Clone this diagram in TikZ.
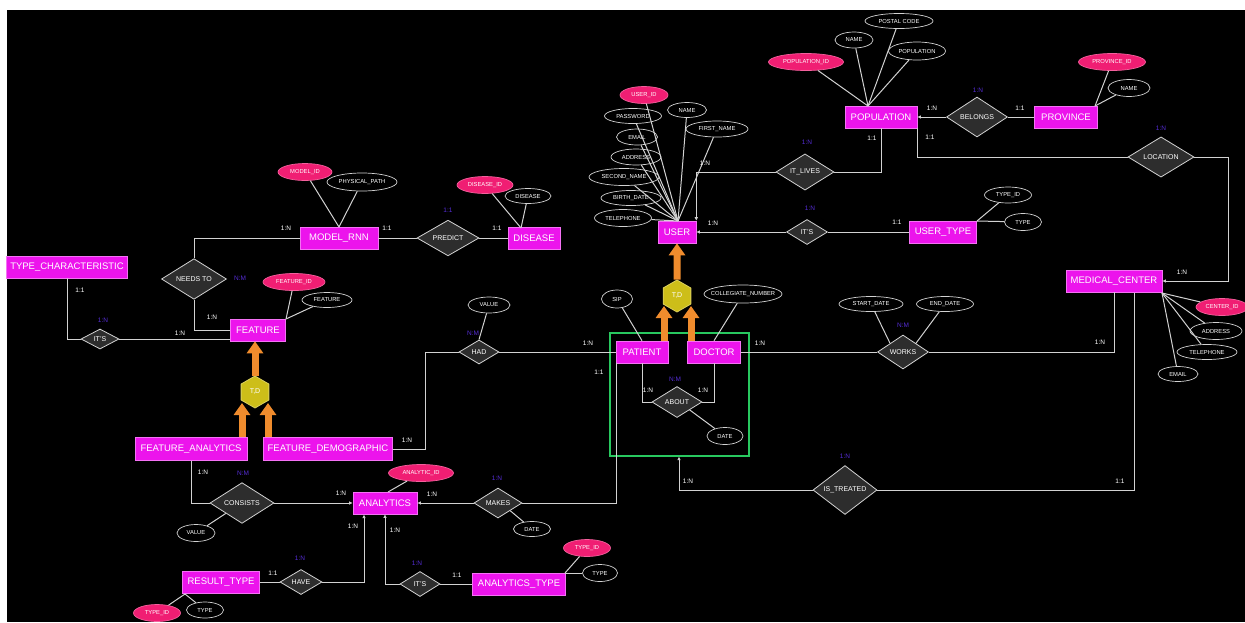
\documentclass[tikz,border=0pt]{standalone}
\usepackage{fontspec}
\setmainfont{Liberation Sans}
\usetikzlibrary{shapes.geometric,arrows.meta}
\definecolor{entfill}{RGB}{236,20,236}
\definecolor{keyfill}{RGB}{240,30,115}
\definecolor{relfill}{RGB}{45,45,45}
\definecolor{linecol}{RGB}{210,210,210}
\definecolor{ratiocol}{RGB}{85,45,215}
\definecolor{grpcol}{RGB}{40,200,95}
\definecolor{isacol}{RGB}{240,140,45}
\definecolor{hexfill}{RGB}{205,190,25}
\newcommand\entfont{\fontsize{9.5}{10}\selectfont}
\newcommand\relfont{\fontsize{7}{8}\selectfont}
\newcommand\attfont{\fontsize{5.8}{6}\selectfont}
\newcommand\cardfont{\fontsize{6.5}{7}\selectfont}
\newcommand\ctext[1]{\makebox[0pt]{#1}}
\begin{document}
\begin{tikzpicture}[x=1pt,y=-1pt,
 ent/.style={rectangle,fill=entfill,draw=entfill!60!white,line width=0.6pt,text=white,font=\entfont,inner sep=1pt,minimum height=22pt},
 rel/.style={diamond,fill=relfill,draw=linecol,line width=0.8pt,text=white,font=\relfont,inner sep=0pt},
 attr/.style={ellipse,fill=black,draw=linecol,line width=0.7pt,text=white,font=\attfont,inner sep=0pt,minimum height=15pt},
 keyattr/.style={attr,fill=keyfill,draw=keyfill!70!white},
 ln/.style={draw=linecol,line width=1pt},
 tipsm/.style={-{Latex[length=3.5pt,width=3.5pt]}},
 card/.style={text=white,font=\cardfont,inner sep=0pt},
 ratio/.style={text=ratiocol,font=\cardfont,inner sep=0pt},
 isa/.style={regular polygon,regular polygon sides=6,shape border rotate=90,fill=hexfill,draw=hexfill!70!white,line width=0.8pt,minimum size=32pt,inner sep=0pt,text=white,font=\relfont},
 isaarr/.style={draw=isacol,line width=7pt,-{Triangle[length=12pt,width=16pt]}},
 grp/.style={draw=grpcol,line width=2pt,fill=none}
]
\useasboundingbox (0,0) rectangle (1245,622);
\fill[white] (0,0) rectangle (1245,622);
\fill[black] (7,10) rectangle (1245,622);

% ---------- group frame around the specialisations of USER
\node[grp,minimum width=139pt,minimum height=123pt,inner sep=0pt] (grpbox) at (679,394) {};

% ---------- entities
\node[ent,minimum width=121pt] (typechar) at (67,267) {TYPE\_CHARACTERISTIC};
\node[ent,minimum width=78pt] (modelrnn) at (339,238) {MODEL\_RNN};
\node[ent,minimum width=52pt] (disease) at (534,238) {DISEASE};
\node[ent,minimum width=55pt] (feature) at (258,330) {FEATURE};
\node[ent,minimum width=112pt,minimum height=23pt] (fanal) at (191,449) {FEATURE\_ANALYTICS};
\node[ent,minimum width=129pt,minimum height=23pt] (fdemo) at (328,449) {FEATURE\_DEMOGRAPHIC};
\node[ent,minimum width=64pt] (analytics) at (385,503) {ANALYTICS};
\node[ent,minimum width=77pt] (resulttype) at (221,582) {RESULT\_TYPE};
\node[ent,minimum width=93pt] (antype) at (519,584) {ANALYTICS\_TYPE};
\node[ent,minimum width=52pt] (patient) at (642,352) {PATIENT};
\node[ent,minimum width=53pt] (doctor) at (714,352) {DOCTOR};
\node[ent,minimum width=38pt] (user) at (677,232) {USER};
\node[ent,minimum width=67pt] (usertype) at (943,232) {USER\_TYPE};
\node[ent,minimum width=72pt] (population) at (881,117) {POPULATION};
\node[ent,minimum width=63pt] (province) at (1066,117) {PROVINCE};
\node[ent,minimum width=96pt] (medcenter) at (1114,281) {MEDICAL\_CENTER};

% ---------- relationships
\node[rel,minimum width=62pt,minimum height=32pt] (predict) at (448,238) {PREDICT};
\node[rel,minimum width=65pt,minimum height=38pt] (needsto) at (194,279) {NEEDS TO};
\node[rel,minimum width=38pt,minimum height=20pt] (its1) at (100,339) {IT'S};
\node[rel,minimum width=40pt,minimum height=24pt] (had) at (479,352) {HAD};
\node[rel,minimum width=50pt,minimum height=31pt] (about) at (677,402) {ABOUT};
\node[rel,minimum width=64pt,minimum height=40pt] (consists) at (242,503) {CONSISTS};
\node[rel,minimum width=48pt,minimum height=30pt] (makes) at (498,503) {MAKES};
\node[rel,minimum width=42pt,minimum height=25pt] (have) at (301,582) {HAVE};
\node[rel,minimum width=40pt,minimum height=25pt] (its3) at (420,584) {IT'S};
\node[rel,minimum width=64pt,minimum height=46pt] (istreated) at (845,490) {IS\_TREATED};
\node[rel,minimum width=51pt,minimum height=34pt] (works) at (903,352) {WORKS};
\node[rel,minimum width=41pt,minimum height=25pt] (its2) at (807,232) {IT'S};
\node[rel,minimum width=58pt,minimum height=34pt] (itlives) at (805,172) {IT\_LIVES};
\node[rel,minimum width=61pt,minimum height=40pt] (belongs) at (977,117) {BELONGS};
\node[rel,minimum width=66pt,minimum height=38pt] (location) at (1161,157) {LOCATION};

% ---------- attributes
\node[keyattr,minimum width=54pt,minimum height=17pt] (mid) at (305,172) {\ctext{MODEL\_ID}};
\node[attr,minimum width=70pt,minimum height=18pt] (mpath) at (362,182) {\ctext{PHYSICAL\_PATH}};
\node[keyattr,minimum width=56pt,minimum height=17pt] (did) at (485,185) {\ctext{DISEASE\_ID}};
\node[attr,minimum width=46pt] (dname) at (528,196) {\ctext{DISEASE}};
\node[keyattr,minimum width=62pt,minimum height=17pt] (fid) at (294,282) {\ctext{FEATURE\_ID}};
\node[attr,minimum width=50pt] (fname) at (327,300) {\ctext{FEATURE}};

\node[keyattr,minimum width=48pt,minimum height=17pt] (uid) at (644,95) {\ctext{USER\_ID}};
\node[attr,minimum width=39pt] (uname) at (687,110) {\ctext{NAME}};
\node[attr,minimum width=57pt] (upass) at (633,116) {\ctext{PASSWORD}};
\node[attr,minimum width=62pt,minimum height=16pt] (ufirst) at (717,129) {\ctext{FIRST\_NAME}};
\node[attr,minimum width=41pt,minimum height=16pt] (uemail) at (637,137) {\ctext{EMAIL}};
\node[attr,minimum width=50pt,minimum height=16pt] (uaddr) at (636,157) {\ctext{ADDRESS}};
\node[attr,minimum width=70pt,minimum height=17pt] (usecond) at (624,177) {\ctext{SECOND\_NAME}};
\node[attr,minimum width=60pt] (ubirth) at (631,198) {\ctext{BIRTH\_DATE}};
\node[attr,minimum width=57pt,minimum height=17pt] (utel) at (623,218) {\ctext{TELEPHONE}};

\node[keyattr,minimum width=75pt,minimum height=17pt] (popid) at (806,62) {\ctext{POPULATION\_ID}};
\node[attr,minimum width=38pt,minimum height=16pt] (popname) at (854,40) {\ctext{NAME}};
\node[attr,minimum width=68pt] (poppostal) at (899,21) {\ctext{POSTAL CODE}};
\node[attr,minimum width=57pt,minimum height=18pt] (poppop) at (917,51) {\ctext{POPULATION}};
\node[keyattr,minimum width=67pt,minimum height=17pt] (provid) at (1112,62) {\ctext{PROVINCE\_ID}};
\node[attr,minimum width=42pt,minimum height=17pt] (provname) at (1129,88) {\ctext{NAME}};

\node[attr,minimum width=47pt,minimum height=16pt] (utid) at (1008,195) {\ctext{TYPE\_ID}};
\node[attr,minimum width=37pt,minimum height=17pt] (uttype) at (1023,222) {\ctext{TYPE}};

\node[keyattr,minimum width=52pt,minimum height=17pt] (mcid) at (1222,307) {\ctext{CENTER\_ID}};
\node[attr,minimum width=52pt,minimum height=17pt] (mcaddr) at (1216,331) {\ctext{ADDRESS}};
\node[attr,minimum width=60pt] (mctel) at (1207,352) {\ctext{TELEPHONE}};
\node[attr,minimum width=40pt] (mcemail) at (1178,374) {\ctext{EMAIL}};

\node[attr,minimum width=64pt] (wstart) at (871,304) {\ctext{START\_DATE}};
\node[attr,minimum width=57pt] (wend) at (945,304) {\ctext{END\_DATE}};
\node[attr,minimum width=31pt,minimum height=18pt] (sip) at (617,299) {\ctext{SIP}};
\node[attr,minimum width=78pt,minimum height=18pt] (colnum) at (743,294) {\ctext{COLLEGIATE\_NUMBER}};
\node[attr,minimum width=42pt,minimum height=16pt] (hadval) at (489,305) {\ctext{VALUE}};
\node[attr,minimum width=36pt,minimum height=17pt] (aboutdate) at (725,436) {\ctext{DATE}};
\node[attr,minimum width=38pt,minimum height=17pt] (conval) at (196,533) {\ctext{VALUE}};
\node[keyattr,minimum width=65pt,minimum height=17pt] (anid) at (421,473) {\ctext{ANALYTIC\_ID}};
\node[attr,minimum width=37pt] (makesdate) at (532,529) {\ctext{DATE}};
\node[keyattr,minimum width=47pt,minimum height=17pt] (atid) at (587,548) {\ctext{TYPE\_ID}};
\node[attr,minimum width=35pt,minimum height=17pt] (attype) at (600,573) {\ctext{TYPE}};
\node[keyattr,minimum width=47pt,minimum height=17pt] (rtid) at (157,613) {\ctext{TYPE\_ID}};
\node[attr,minimum width=37pt,minimum height=16pt] (rttype) at (205,610) {\ctext{TYPE}};

% ---------- attribute hubs on the entity borders
\coordinate (hubM) at (339,227);
\coordinate (hubD) at (521,228);
\coordinate (hubF) at (286,319);
\coordinate (hubU) at (678,221);
\coordinate (hubP) at (868,106);
\coordinate (hubV) at (1095,106);
\coordinate (hubT) at (977,221);
\coordinate (hubC) at (1162,293);
\coordinate (hubA) at (388,492);
\coordinate (hubAT) at (565,573);
\coordinate (hubR) at (185,594);

\foreach \a in {mid,mpath} \draw[ln] (\a) -- (hubM);
\foreach \a in {did,dname} \draw[ln] (\a) -- (hubD);
\foreach \a in {fid,fname} \draw[ln] (\a) -- (hubF);
\foreach \a in {uid,uname,upass,ufirst,uemail,uaddr,usecond,ubirth,utel} \draw[ln] (\a) -- (hubU);
\foreach \a in {popid,popname,poppostal,poppop} \draw[ln] (\a) -- (hubP);
\foreach \a in {provid,provname} \draw[ln] (\a) -- (hubV);
\foreach \a in {utid,uttype} \draw[ln] (\a) -- (hubT);
\foreach \a in {mcid,mcaddr,mctel,mcemail} \draw[ln] (\a) -- (hubC);
\draw[ln] (anid) -- (hubA);
\foreach \a in {atid,attype} \draw[ln] (\a) -- (hubAT);
\foreach \a in {rtid,rttype} \draw[ln] (\a) -- (hubR);
\draw[ln] (sip) -- (patient.north);
\draw[ln] (colnum) -- (doctor.north);
\draw[ln] (hadval) -- (had.north);
\draw[ln] (aboutdate) -- (about.south east);
\draw[ln] (wstart) -- (works.north west);
\draw[ln] (wend) -- (works.north east);
\draw[ln] (conval) -- (consists.south west);
\draw[ln] (makesdate) -- (makes.south east);

% ---------- relationship connectors
\draw[ln] (modelrnn.east) -- (predict.west);
\draw[ln] (predict.east) -- (disease.west);
\draw[ln] (modelrnn.west) -| (needsto.north);
\draw[ln] (needsto.south) |- (feature.west);
\draw[ln] (typechar.south) |- (its1.west);
\draw[ln] (its1.east) -- (its1.east -| feature.west);

\coordinate (hadx) at (425,449);
\draw[ln] (fdemo.east) -- (hadx) |- (had.west);
\draw[ln] (had.east) -- (patient.west);

\draw[ln] ([xshift=1pt]patient.south west) |- (makes.east);
\draw[ln,tipsm] (makes.west) -- (analytics.east);

\draw[ln] (patient.south) |- (about.west);
\draw[ln] (doctor.south) |- (about.east);

\draw[ln] (doctor.east) -- (works.west);
\draw[ln] (works.east) -| (medcenter.south);

\coordinate (mcb) at (1134,293);
\draw[ln,tipsm] (istreated.west) -| (grpbox.south);
\draw[ln] (istreated.east) -| (mcb);

\coordinate (locx) at (1228,157);
\draw[ln] (population.south east) |- (location.west);
\draw[ln,tipsm] (location.east) -- (locx) |- (medcenter.east);

\draw[ln,tipsm] (belongs.west) -- (population.east);
\draw[ln] (belongs.east) -- (province.west);

\draw[ln] (population.south) |- (itlives.east);
\draw[ln,tipsm] (itlives.west) -| (user.north east);

\draw[ln,tipsm] (its2.west) -- (user.east);
\draw[ln] (its2.east) -- (usertype.west);

\draw[ln] (fanal.south) |- (consists.west);
\draw[ln,tipsm] (consists.east) -- (analytics.west);

\coordinate (anb) at (364,514.5);
\draw[ln] (resulttype.east) -- (have.west);
\draw[ln,tipsm] (have.east) -| (anb);
\draw[ln,tipsm] (its3.west) -| (analytics.south);
\draw[ln] (its3.east) -- (antype.west);

% ---------- specialisation (ISA) arrows and hexagons
\coordinate (uL) at (664,306);
\coordinate (uR) at (691,306);
\coordinate (fL) at (242,403);
\coordinate (fR) at (268,403);
\draw[isaarr] (patient.north -| uL) -- (uL);
\draw[isaarr] (doctor.north -| uR) -- (uR);
\draw[isaarr] (fanal.north -| fL) -- (fL);
\draw[isaarr] (fdemo.north -| fR) -- (fR);
\node[isa] (hexU) at (677,296) {T,D};
\node[isa] (hexF) at (255,392) {T,D};
\draw[isaarr] (hexU.north) -- (user.south);
\draw[isaarr] (hexF.north) -- (feature.south -| hexF.north);

% ---------- cardinalities
\node[card] (k1) at (286,228) {1:N};
\node[card] (k2) at (387,228) {1:1};
\node[card] (k3) at (497,228) {1:1};
\node[card] (k4) at (212,317) {1:N};
\node[card] (k5) at (80,290) {1:1};
\node[card] (k6) at (180,333) {1:N};
\node[card] (k7) at (407,440) {1:N};
\node[card] (k8) at (588,343) {1:N};
\node[card] (k9) at (599,372) {1:1};
\node[card] (k10) at (648,390) {1:N};
\node[card] (k11) at (703,390) {1:N};
\node[card] (k12) at (760,343) {1:N};
\node[card] (k13) at (1100,342) {1:N};
\node[card] (k14) at (688,481) {1:N};
\node[card] (k15) at (1120,481) {1:1};
\node[card] (k16) at (432,494) {1:N};
\node[card] (k17) at (203,472) {1:N};
\node[card] (k18) at (341,493) {1:N};
\node[card] (k19) at (353,526) {1:N};
\node[card] (k20) at (395,530) {1:N};
\node[card] (k21) at (273,573) {1:1};
\node[card] (k22) at (457,575) {1:1};
\node[card] (k23) at (705,163) {1:N};
\node[card] (k24) at (713,223) {1:N};
\node[card] (k25) at (897,222) {1:1};
\node[card] (k26) at (872,138) {1:1};
\node[card] (k27) at (930,137) {1:1};
\node[card] (k28) at (932,108) {1:N};
\node[card] (k29) at (1020,108) {1:1};
\node[card] (k30) at (1182,272) {1:N};

% ---------- relationship ratios
\node[ratio] (r1) at (448,210) {1:1};
\node[ratio] (r2) at (240,278) {N:M};
\node[ratio] (r3) at (103,320) {1:N};
\node[ratio] (r4) at (473,333) {N:M};
\node[ratio] (r5) at (675,379) {N:M};
\node[ratio] (r6) at (903,325) {N:M};
\node[ratio] (r7) at (845,456) {1:N};
\node[ratio] (r8) at (497,478) {1:N};
\node[ratio] (r9) at (243,473) {N:M};
\node[ratio] (r10) at (300,558) {1:N};
\node[ratio] (r11) at (417,563) {1:N};
\node[ratio] (r12) at (807,142) {1:N};
\node[ratio] (r13) at (810,208) {1:N};
\node[ratio] (r14) at (978,90) {1:N};
\node[ratio] (r15) at (1161,128) {1:N};
\end{tikzpicture}
\end{document}
